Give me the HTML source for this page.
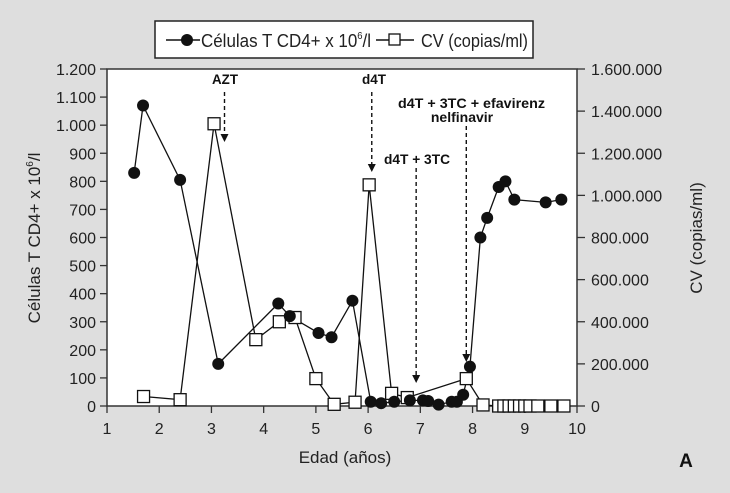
<!DOCTYPE html>
<html><head><meta charset="utf-8"><style>
body{margin:0;width:730px;height:493px;background:#dedede;overflow:hidden}
svg{display:block;font-family:"Liberation Sans",sans-serif}
</style></head><body>
<svg width="730" height="493">
<rect x="0" y="0" width="730" height="493" fill="#dedede"/>
<rect x="107" y="69" width="470" height="337" fill="#fff" stroke="#333" stroke-width="1.5"/>
<g>
<rect x="155" y="21" width="378" height="37" fill="#fff" stroke="#222" stroke-width="1.5"/>
<line x1="166" y1="40" x2="200" y2="40" stroke="#111" stroke-width="1.5"/>
<circle cx="187" cy="40" r="6" fill="#111"/>
<text x="201" y="47" font-size="18" fill="#222" textLength="170" lengthAdjust="spacingAndGlyphs">Células T CD4+ x 10<tspan font-size="10" dy="-8">6</tspan><tspan dy="8">/l</tspan></text>
<line x1="376" y1="40" x2="414" y2="40" stroke="#111" stroke-width="1.5"/>
<rect x="389" y="34" width="11" height="11" fill="#fff" stroke="#111" stroke-width="1.3"/>
<text x="421" y="47" font-size="18" fill="#222" textLength="107" lengthAdjust="spacingAndGlyphs">CV (copias/ml)</text>
</g>
<g id="axes"></g>
<g id="annot" font-weight="bold" font-size="14" fill="#111">
<text x="225" y="84" text-anchor="middle" textLength="26" lengthAdjust="spacingAndGlyphs">AZT</text>
<text x="374" y="84" text-anchor="middle" textLength="24" lengthAdjust="spacingAndGlyphs">d4T</text>
<text x="398" y="108" textLength="147" lengthAdjust="spacingAndGlyphs">d4T + 3TC +  efavirenz</text>
<text x="462" y="122" text-anchor="middle">nelfinavir</text>
<text x="384" y="164" textLength="66" lengthAdjust="spacingAndGlyphs">d4T + 3TC</text>
</g>
<g id="series"></g>
<text x="345" y="463" text-anchor="middle" font-size="17" fill="#222">Edad (años)</text>
<text transform="translate(40,238) rotate(-90)" text-anchor="middle" font-size="17" fill="#222">Células T CD4+ x 10<tspan font-size="10" dy="-7">6</tspan><tspan dy="7">/l</tspan></text>
<text transform="translate(702,238) rotate(-90)" text-anchor="middle" font-size="17" fill="#222">CV (copias/ml)</text>
<text x="686" y="467" text-anchor="middle" font-size="19" font-weight="bold" fill="#111">A</text>
</svg>
<script>
const xTicks=[1,2,3,4,5,6,7,8,9,10];
const leftTicks=[0,100,200,300,400,500,600,700,800,900,1000,1100,1200];
const leftLabels=["0","100","200","300","400","500","600","700","800","900","1.000","1.100","1.200"];
const rightTicks=[0,200000,400000,600000,800000,1000000,1200000,1400000,1600000];
const rightLabels=["0","200.000","400.000","600.000","800.000","1.000.000","1.200.000","1.400.000","1.600.000"];
const cd4Age=[1.52,1.69,2.4,3.13,4.28,4.5,5.05,5.3,5.7,6.05,6.25,6.5,6.8,7.05,7.15,7.35,7.6,7.7,7.82,7.95,8.15,8.28,8.5,8.63,8.8,9.4,9.7];
const cd4Val=[830,1070,805,150,365,320,260,245,375,15,10,15,20,20,18,5,15,15,40,140,600,670,780,800,735,725,735];
const cvAge=[1.7,2.4,3.05,3.85,4.3,4.6,5.0,5.35,5.75,6.02,6.45,6.75,7.88,8.2,8.5,8.6,8.7,8.8,8.9,9.0,9.1,9.25,9.5,9.75];
const cvVal=[45000,30000,1340000,315000,400000,420000,130000,8000,18000,1050000,60000,40000,130000,5000,0,0,0,0,0,0,0,0,0,0];
const arrowX=[3.25,6.07,6.92,7.88];
const arrowTop=[92,92,168,126];
const NS="http://www.w3.org/2000/svg";
const X0=107,X1=577,Y0=406,Y1=69;
const sx=v=>X0+(v-1)/9*(X1-X0);
const sl=v=>Y0-v/1200*(Y0-Y1);
const sr=v=>Y0-v/1600000*(Y0-Y1);
function mk(tag,attrs,parent){const e=document.createElementNS(NS,tag);for(const k in attrs)e.setAttribute(k,attrs[k]);parent.appendChild(e);return e;}
const ax=document.getElementById('axes'),se=document.getElementById('series');
xTicks.forEach(t=>{const x=sx(t);
 const l=mk('line',{x1:x,y1:Y0,x2:x,y2:Y0+7,stroke:'#333','stroke-width':1.3},ax);
 
 
 const tx=mk('text',{x:x,y:Y0+28,'text-anchor':'middle','font-size':16,fill:'#222'},ax);tx.textContent=t;
 
 });
leftTicks.forEach((t,i)=>{const y=sl(t);
 const l=mk('line',{x1:X0-7,y1:y,x2:X0,y2:y,stroke:'#333','stroke-width':1.3},ax);
 
 
 const tx=mk('text',{x:96,y:y+6,'text-anchor':'end','font-size':16,fill:'#222'},ax);tx.textContent=leftLabels[i];
 
 });
rightTicks.forEach((t,i)=>{const y=sr(t);
 const l=mk('line',{x1:X1,y1:y,x2:X1+8,y2:y,stroke:'#333','stroke-width':1.3},ax);
 
 
 const tx=mk('text',{x:591,y:y+6,'text-anchor':'start','font-size':16,fill:'#222'},ax);tx.textContent=rightLabels[i];
 
 });
arrowX.forEach((a,i)=>{const x=sx(a);const yb=i==0?142:(i==1?172:(i==2?383:362));
 const l=mk('line',{x1:x,y1:arrowTop[i],x2:x,y2:yb-6,stroke:'#111','stroke-width':1.4,'stroke-dasharray':'4,3'},se);
 
 
 const p=mk('path',{d:`M${x-4},${yb-8} L${x+4},${yb-8} L${x},${yb} Z`,fill:'#111'},se);
 
 });
const cvLine=mk('polyline',{points:cvAge.map((a,i)=>sx(a)+','+sr(cvVal[i])).join(' '),fill:'none',stroke:'#111','stroke-width':1.3},se);


const cdLine=mk('polyline',{points:cd4Age.map((a,i)=>sx(a)+','+sl(cd4Val[i])).join(' '),fill:'none',stroke:'#111','stroke-width':1.3},se);


cvAge.forEach((a,i)=>{const r=mk('rect',{x:sx(a)-6,y:sr(cvVal[i])-6,width:12,height:12,fill:'#fff',stroke:'#111','stroke-width':1.3},se);
 
 });
cd4Age.forEach((a,i)=>{const c=mk('circle',{cx:sx(a),cy:sl(cd4Val[i]),r:6,fill:'#111'},se);
 
 });
</script>
</body></html>
